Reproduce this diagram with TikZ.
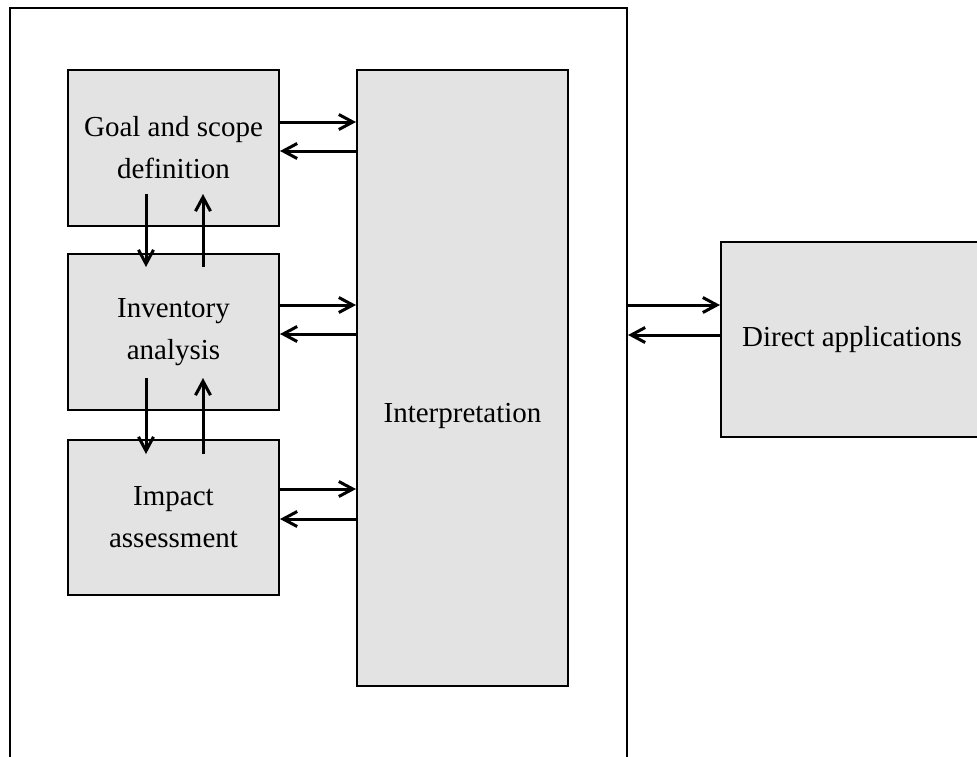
\documentclass[tikz,border=0pt]{standalone}
\usepackage{fontspec}
\setmainfont{Liberation Serif}
\usetikzlibrary{calc,arrows.meta}
\definecolor{boxgray}{RGB}{227,227,227}
\tikzset{
  stagetext/.style={align=center, inner sep=0pt, font=\fontsize{14.5}{21}\selectfont},
  stage/.style={stagetext, draw, fill=boxgray, line width=1pt},
  >={Straight Barb[length=7pt,width=7.5pt]}
}

\begin{document}
\begin{tikzpicture}[x=0.5pt, y=-0.5pt, line width=1.5pt]
    \useasboundingbox (0,0) rectangle (977,756);
    \clip (0,0) rectangle (977,756);

    \node[draw, line width=1pt, inner sep=0pt, minimum width=308.5pt, minimum height=386pt] (frame) at (318.5,394) {};

    \node[stage, minimum width=105.5pt, minimum height=78pt]   (goal)   at (173.5,148)   {Goal and scope\\definition};
    \node[stage, minimum width=105.5pt, minimum height=78pt]   (inv)    at (173.5,332)   {Inventory\\analysis};
    \node[stage, minimum width=105.5pt, minimum height=77.5pt] (impact) at (173.5,517.5) {Impact\\assessment};
    \node[stage, minimum width=105.5pt, minimum height=308pt]  (interp) at (462.5,378)   {};
    \node[stagetext] (interplabel) at (462.5,416) {Interpretation};
    \node[stage, minimum width=131pt, minimum height=97.5pt]   (direct) at (852,339.5)   {Direct applications};

    \draw[->] ($(goal.south)+(-27.5,-33)$) -- ($(inv.north)+(-27.5,14)$);
    \draw[->] ($(inv.north)+(29.5,14)$) -- ($(goal.south)+(29.5,-33)$);
    \draw[->] ($(inv.south)+(-27.5,-33)$) -- ($(impact.north)+(-27.5,15)$);
    \draw[->] ($(impact.north)+(29.5,15)$) -- ($(inv.south)+(29.5,-33)$);

    \draw[->] ($(goal.east)+(0,-26)$) coordinate (g1) -- (g1 -| interp.west);
    \draw[<-] ($(goal.east)+(0,3)$) coordinate (g2) -- (g2 -| interp.west);
    \draw[->] ($(inv.east)+(0,-27)$) coordinate (i1) -- (i1 -| interp.west);
    \draw[<-] ($(inv.east)+(0,2)$) coordinate (i2) -- (i2 -| interp.west);
    \draw[->] ($(impact.east)+(0,-28.5)$) coordinate (m1) -- (m1 -| interp.west);
    \draw[<-] ($(impact.east)+(0,1.5)$) coordinate (m2) -- (m2 -| interp.west);

    \path ($(direct.west)+(0,-34.5)$) coordinate (d1)
          ($(direct.west)+(0,-4.5)$) coordinate (d2);
    \draw[->] (d1 -| frame.east) -- (d1);
    \draw[<-] (d2 -| frame.east) -- (d2);
\end{tikzpicture}
\end{document}
